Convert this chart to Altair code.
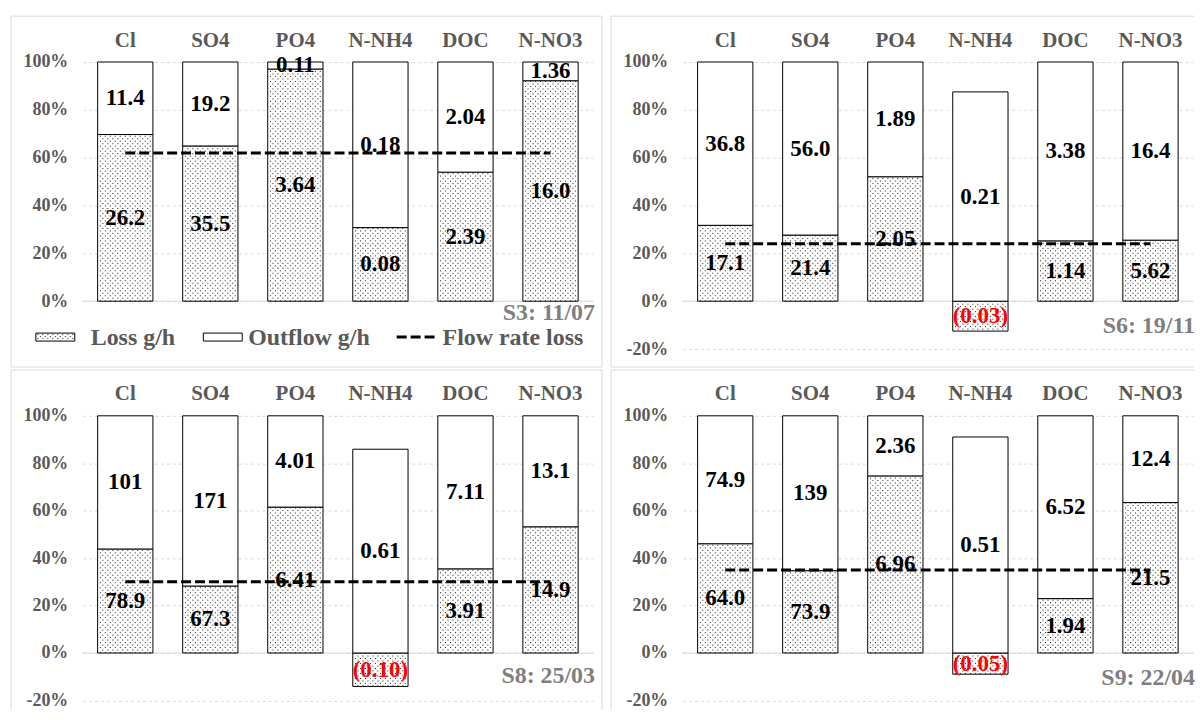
import altair as alt
import pandas as pd

# ---------------- data ----------------
categories = ["Cl", "SO4", "PO4", "N-NH4", "DOC", "N-NO3"]
panel_titles = ["S3: 11/07", "S6: 19/11", "S8: 25/03", "S9: 22/04"]

loss_s3 = [26.2, 35.5, 3.64, 0.08, 2.39, 16.0]
out_s3 = [11.4, 19.2, 0.11, 0.18, 2.04, 1.36]
loss_s6 = [17.1, 21.4, 2.05, -0.03, 1.14, 5.62]
out_s6 = [36.8, 56.0, 1.89, 0.21, 3.38, 16.4]
loss_s8 = [78.9, 67.3, 6.41, -0.10, 3.91, 14.9]
out_s8 = [101, 171, 4.01, 0.61, 7.11, 13.1]
loss_s9 = [64.0, 73.9, 6.96, -0.05, 1.94, 21.5]
out_s9 = [74.9, 139, 2.36, 0.51, 6.52, 12.4]
flow_rate_loss = [62, 24, 30, 35]  # percent

legend_labels = ["Loss g/h", "Outflow g/h", "Flow rate loss"]

# ---------------- style ----------------
FONT = "Liberation Serif"
GRAY = "#595959"
TITLE_GRAY = "#7f7f7f"
GRID = "#d9d9d9"
FRAME = "#d9d9d9"
W = 512
DOT_OFFS = [-25 + 2.5 * k for k in range(21)]
DUMMY = pd.DataFrame({"d": [0]})


def fmt(v):
    a = abs(v)
    if a >= 100:
        s = f"{a:.0f}"
    elif a >= 10:
        s = f"{a:.1f}"
    else:
        s = f"{a:.2f}"
    return f"({s})" if v < 0 else s


def hseg(x1, x2, y, **kw):
    return alt.Chart(DUMMY).mark_rule(color=FRAME, strokeWidth=1, **kw).encode(
        x=alt.value(x1), x2=alt.value(x2), y=alt.value(y))


def vseg(x, y1, y2, **kw):
    return alt.Chart(DUMMY).mark_rule(color=FRAME, strokeWidth=1, **kw).encode(
        x=alt.value(x), y=alt.value(y1), y2=alt.value(y2))


def panel(loss, out, flow, title, ymin, per100, title_dy, frame, legend=False):
    h = per100 * (100 - ymin) / 100.0
    rows = []
    for c, l, o in zip(categories, loss, out):
        t = abs(l) + o
        lp = l / t * 100
        op = o / t * 100
        b = max(lp, 0)
        rows.append({"cat": c, "seg": "Loss", "y0": 0.0, "y1": lp, "mid": lp / 2,
                     "label": fmt(l), "col": "#ff0000" if l < 0 else "#000000"})
        rows.append({"cat": c, "seg": "Outflow", "y0": b, "y1": b + op, "mid": b + op / 2,
                     "label": fmt(o), "col": "#000000"})
    df = pd.DataFrame(rows)
    ldf = df[df.seg == "Loss"]
    fdf = pd.DataFrame({"cat": categories, "flow": [flow] * len(categories)})

    xscale = alt.Scale(domain=categories, paddingInner=0.35, paddingOuter=0.175)
    xaxis = alt.Axis(orient="top", title=None, domain=False, ticks=False, tickSize=0,
                     labelAngle=0, labelFont=FONT, labelFontSize=21, labelFontWeight="bold",
                     labelColor=GRAY, labelPadding=12, grid=False)
    yscale = alt.Scale(domain=[ymin, 100], nice=False, zero=False)
    yaxis = alt.Axis(values=list(range(ymin, 101, 20)), labelExpr="datum.value + '%'",
                     title=None, domain=False, ticks=False, tickSize=0, labelPadding=15,
                     labelFont=FONT, labelFontSize=18, labelFontWeight="bold", labelColor=GRAY,
                     grid=True, gridColor=GRID, gridDash=[3, 3], gridWidth=1)
    X = alt.X("cat:N", sort=categories, scale=xscale, axis=xaxis, title=None)

    def Y(f):
        return alt.Y(f"{f}:Q", scale=yscale, axis=yaxis, title=None)

    layers = []
    layers.append(alt.Chart(pd.DataFrame({"z": [0]})).mark_rule(color=GRID, strokeWidth=1)
                  .encode(y=Y("z")))
    layers.append(alt.Chart(df).mark_bar(fill="white", stroke="black", strokeWidth=1)
                  .encode(x=X, y=Y("y1"), y2="y0"))
    for k, off in enumerate(DOT_OFFS):
        layers.append(alt.Chart(ldf).mark_rule(xOffset=off, strokeDash=[1, 4],
                                               strokeDashOffset=0 if k % 2 == 0 else 2.5,
                                               color="#222222", strokeWidth=1)
                      .encode(x=X, y=Y("y0"), y2="y1"))
    layers.append(alt.Chart(fdf).mark_line(color="black", strokeWidth=3, strokeDash=[10, 4])
                  .encode(x=X, y=Y("flow")))
    layers.append(alt.Chart(df).mark_text(font=FONT, fontSize=23, fontWeight="bold",
                                          baseline="middle", align="center")
                  .encode(x=X, y=Y("mid"), text="label:N",
                          color=alt.Color("col:N", scale=None)))
    layers.append(alt.Chart(pd.DataFrame({"t": [title]})).mark_text(
        font=FONT, fontSize=24, fontWeight="bold", color=TITLE_GRAY, align="right",
        baseline="middle").encode(text="t:N", x=alt.value(W + 2), y=alt.value(per100 + title_dy)))

    # chart-area frame lines
    for seg in frame:
        if seg[0] == "h":
            layers.append(hseg(seg[1], seg[2], seg[3]))
        else:
            layers.append(vseg(seg[1], seg[2], seg[3]))

    if legend:
        ly = per100 + 36
        xs = [8, 166, 361]
        # Loss swatch (dotted)
        layers.append(alt.Chart(DUMMY).mark_rect(fill="white", stroke="black", strokeWidth=1)
                      .encode(x=alt.value(-47), x2=alt.value(-8), y=alt.value(ly - 4),
                              y2=alt.value(ly + 4)))
        for k in range(15):
            layers.append(alt.Chart(DUMMY).mark_rule(strokeDash=[1, 3],
                                                     strokeDashOffset=0 if k % 2 == 0 else 2,
                                                     color="#222222", strokeWidth=1)
                          .encode(x=alt.value(-45 + 2.5 * k), y=alt.value(ly - 3),
                                  y2=alt.value(ly + 3)))
        layers.append(alt.Chart(DUMMY).mark_rect(fill="white", stroke="black", strokeWidth=1)
                      .encode(x=alt.value(121), x2=alt.value(160), y=alt.value(ly - 4),
                              y2=alt.value(ly + 4)))
        layers.append(alt.Chart(DUMMY).mark_rule(color="black", strokeWidth=3,
                                                 strokeDash=[10, 4])
                      .encode(x=alt.value(315), x2=alt.value(353), y=alt.value(ly)))
        for i, lab in enumerate(legend_labels):
            layers.append(alt.Chart(pd.DataFrame({"t": [lab]})).mark_text(
                font=FONT, fontSize=24, fontWeight="bold", color=GRAY, align="left",
                baseline="middle").encode(text="t:N", x=alt.value(xs[i]),
                                          y=alt.value(ly + 1)))

    return alt.layer(*layers).properties(width=W, height=h)


TOP = 240
BOT = 238

tl = panel(loss_s3, out_s3, flow_rate_loss[0], panel_titles[0], 0, TOP, 12,
           [("h", -72, 521, -46), ("h", -72, 521, 306), ("v", -72, -46, 306), ("v", 521, -46, 306)],
           legend=True)
tr = panel(loss_s6, out_s6, flow_rate_loss[1], panel_titles[1], -20, TOP, 25,
           [("h", -72, 513, -46), ("h", -72, 513, 306), ("v", -72, -46, 306)])
bh = BOT * 1.2
bl = panel(loss_s8, out_s8, flow_rate_loss[2], panel_titles[2], -20, BOT, 23,
           [("h", -72, 521, -46), ("v", -72, -46, bh + 9), ("v", 521, -46, bh + 9)])
br = panel(loss_s9, out_s9, flow_rate_loss[3], panel_titles[3], -20, BOT, 25,
           [("h", -72, 513, -46), ("v", -72, -46, bh + 9)])

chart = alt.vconcat(
    alt.hconcat(tl, tr, spacing=7),
    alt.hconcat(bl, br, spacing=7),
    spacing=1,
).properties(
    padding={"left": 2, "top": 6, "right": 0, "bottom": 0},
    background="white",
).configure_view(stroke=None)

chart.save("out.html", embed_options={"renderer": "svg", "actions": False})
